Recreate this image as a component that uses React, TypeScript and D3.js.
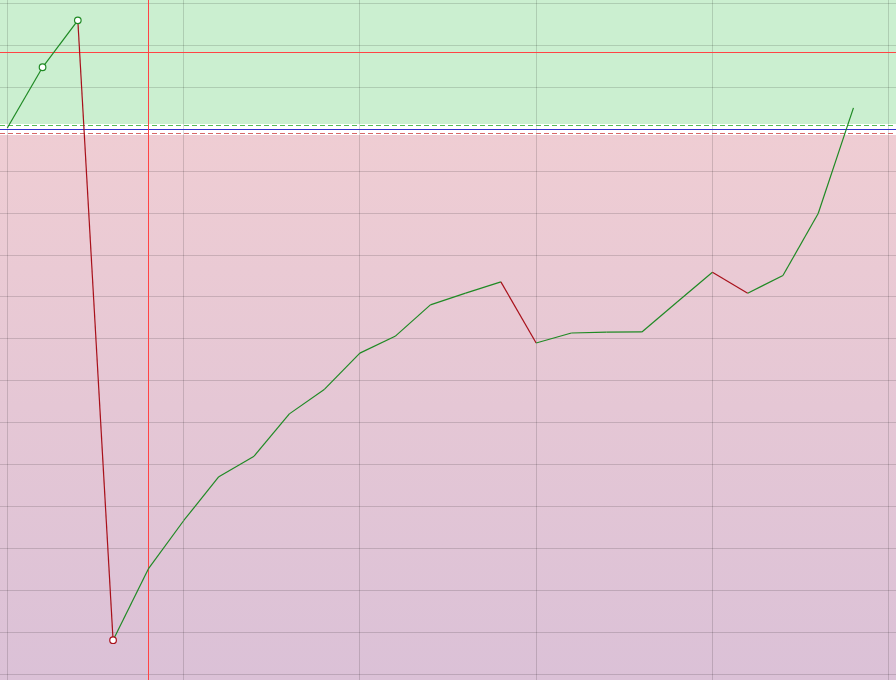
import React from 'react';
import * as d3 from 'd3';

const W = 896;
const H = 680;

// one value per step
const steps = d3.range(25);
const values = [
  0.3, 14.8, 26.0, -121.9, -104.9, -93.4, -82.9, -78.0, -67.9, -62.0,
  -53.4, -49.4, -41.9, -39.1, -36.4, -51.0, -48.6, -48.4, -48.35, -41.2,
  -34.1, -39.1, -34.9, -20.1, 5.1,
];
const markedSteps = [1, 2, 3];
const baseline = 0;
const bandHalf = 1;
const crossStep = 4;
const crossValue = 18.4;

// snap a 1px line onto a pixel centre
const snap = (v: number) => Math.floor(v) + 0.5;

const App: React.FC = () => {
  const x = d3.scaleLinear().domain([-0.207, 25.207]).range([0, W]);
  const y = d3.scaleLinear().domain([-131.4, 30.85]).range([H, 0]);

  const xTicks = x.ticks(5);
  const yTicks = y.ticks(16);

  const y0 = snap(y(baseline));
  const yUp = snap(y(baseline + bandHalf));
  const yDown = snap(y(baseline - bandHalf));

  const segs = steps.slice(1).map((s, i) => ({
    x1: x(steps[i]),
    y1: y(values[i]),
    x2: x(s),
    y2: y(values[s]),
    up: values[s] >= values[i],
  }));

  const markerColor = (i: number) => (i > 0 && values[i] < values[i - 1] ? '#a8101a' : '#1f8a24');

  return (
    <svg
      width={W}
      height={H}
      style={{ position: 'fixed', left: 0, top: 0, display: 'block' }}
    >
      <defs>
        <linearGradient id="lossFill" x1="0" y1={yDown} x2="0" y2={H} gradientUnits="userSpaceOnUse">
          <stop offset="0" stopColor="#efcdd3" />
          <stop offset="1" stopColor="#dbc1d7" />
        </linearGradient>
      </defs>
      <rect x={0} y={0} width={W} height={H} fill="#ffffff" />
      <rect x={0} y={0} width={W} height={yUp - 1.5} fill="#cbefd0" />
      <rect x={0} y={yDown + 1.5} width={W} height={H - yDown - 1.5} fill="url(#lossFill)" />

      {/* grid */}
      <g stroke="#000" strokeOpacity={0.14} strokeWidth={1}>
        {yTicks.map((t) => (
          <line key={'h' + t} x1={0} x2={W} y1={snap(y(t))} y2={snap(y(t))} />
        ))}
        {xTicks.map((t) => (
          <line key={'v' + t} x1={snap(x(t))} x2={snap(x(t))} y1={0} y2={H} />
        ))}
      </g>

      {/* baseline band */}
      <line x1={0} x2={W} y1={yUp} y2={yUp} stroke="#55bb55" strokeWidth={1} strokeDasharray="5,3" />
      <line x1={0} x2={W} y1={yDown} y2={yDown} stroke="#d66666" strokeWidth={1} strokeDasharray="5,3" />
      <line x1={0} x2={W} y1={y0} y2={y0} stroke="#3333cc" strokeWidth={1.2} />

      {/* crosshair */}
      <line x1={0} x2={W} y1={snap(y(crossValue))} y2={snap(y(crossValue))} stroke="#ff4444" strokeWidth={1} />
      <line x1={snap(x(crossStep))} x2={snap(x(crossStep))} y1={0} y2={H} stroke="#ff4444" strokeWidth={1} />

      {/* series */}
      <g strokeWidth={1.2} fill="none">
        {segs.map((s, i) => (
          <line
            key={i}
            x1={s.x1}
            y1={s.y1}
            x2={s.x2}
            y2={s.y2}
            stroke={s.up ? '#1f8a24' : '#a8101a'}
          />
        ))}
      </g>
      {markedSteps.map((i) => (
        <circle
          key={i}
          cx={x(steps[i])}
          cy={y(values[i])}
          r={3.3}
          fill="#ffffff"
          stroke={markerColor(i)}
          strokeWidth={1.2}
        />
      ))}
    </svg>
  );
};

export default App;
